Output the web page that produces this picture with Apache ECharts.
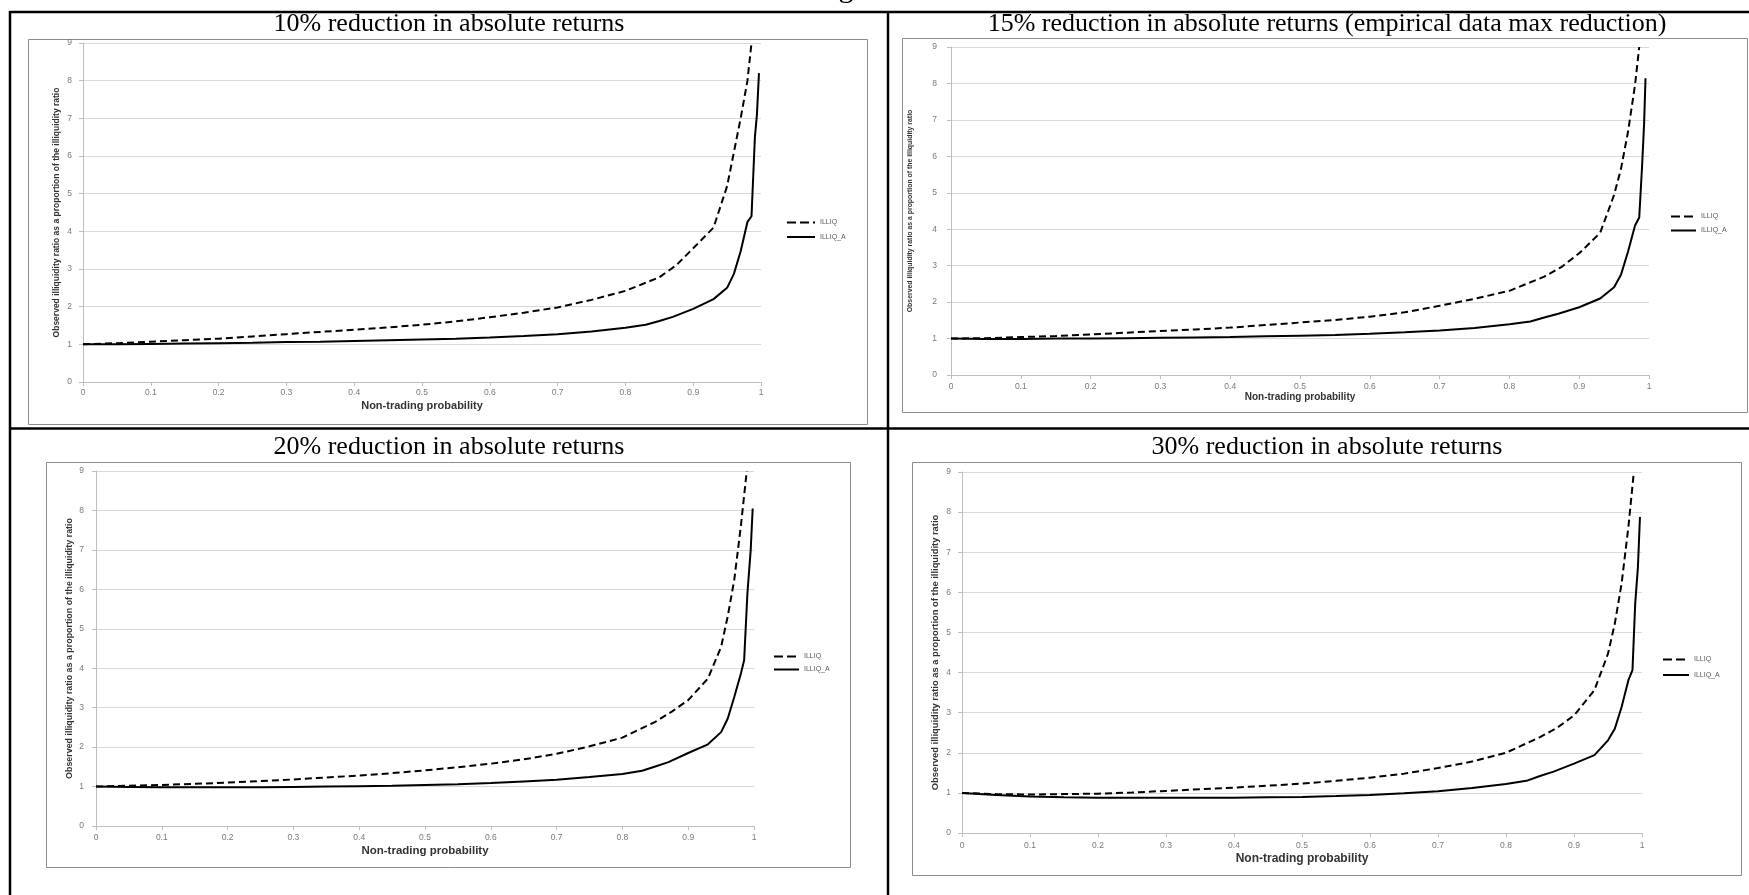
<!DOCTYPE html>
<html><head><meta charset="utf-8">
<script src="https://cdn.jsdelivr.net/npm/echarts@6/dist/echarts.min.js"></script>
<style>html,body{margin:0;padding:0;background:#fff}#c{width:1749px;height:895px}</style>
</head><body><div id="c"></div>
<script>
// ---------------- DATA ----------------
const panelTitles = [
  '10% reduction in absolute returns',
  '15% reduction in absolute returns (empirical data max reduction)',
  '20% reduction in absolute returns',
  '30% reduction in absolute returns'
];
const seriesNames = ['ILLIQ', 'ILLIQ_A'];
const yAxisTitle = 'Observed illiquidity ratio as a proportion of the illiquidity ratio';
const xAxisTitle = 'Non-trading probability';
const xTickLabels = ['0','0.1','0.2','0.3','0.4','0.5','0.6','0.7','0.8','0.9','1'];
const yTickLabels = ['0','1','2','3','4','5','6','7','8','9'];

// non-trading probability (x) for the dashed ILLIQ curves
const xDash10 = [0,0.05,0.1,0.15,0.2,0.25,0.3,0.35,0.4,0.45,0.5,0.55,0.6,0.65,0.7,0.75,0.8,0.85,0.875,0.9,0.93,0.95,0.96,0.97,0.98,0.986];
const xDash15 = [0,0.05,0.1,0.15,0.2,0.25,0.3,0.35,0.4,0.45,0.5,0.55,0.6,0.65,0.7,0.75,0.8,0.85,0.875,0.9,0.93,0.95,0.96,0.97,0.98,0.986];
const xDash20 = [0,0.05,0.1,0.15,0.2,0.25,0.3,0.35,0.4,0.45,0.5,0.55,0.6,0.65,0.7,0.75,0.8,0.85,0.875,0.9,0.93,0.95,0.96,0.97,0.98,0.989];
const xDash30 = [0,0.05,0.1,0.15,0.2,0.25,0.3,0.35,0.4,0.45,0.5,0.55,0.6,0.65,0.7,0.75,0.8,0.85,0.875,0.9,0.93,0.95,0.96,0.97,0.98,0.988];
// ILLIQ values
const illiq10 = [1.00,1.03,1.07,1.11,1.15,1.21,1.27,1.33,1.39,1.45,1.52,1.61,1.72,1.84,1.98,2.18,2.42,2.78,3.1,3.55,4.1,5.2,6.1,7.0,8.0,9.0];
const illiq15 = [1.00,1.01,1.04,1.07,1.11,1.16,1.21,1.25,1.30,1.37,1.44,1.51,1.60,1.72,1.90,2.09,2.31,2.70,2.97,3.34,3.90,4.94,5.67,6.68,7.96,9.0];
const illiq20 = [1.00,1.02,1.04,1.07,1.10,1.14,1.18,1.23,1.28,1.34,1.41,1.49,1.58,1.69,1.83,2.02,2.24,2.64,2.90,3.19,3.74,4.54,5.31,6.24,7.60,9.0];
const illiq30 = [1.00,0.97,0.96,0.97,0.98,1.01,1.05,1.09,1.13,1.18,1.23,1.30,1.38,1.48,1.62,1.78,2.00,2.39,2.62,2.93,3.56,4.47,5.22,6.22,7.63,9.0];

// non-trading probability (x) for the solid ILLIQ_A curves
const xSolid10 = [0,0.05,0.1,0.15,0.2,0.25,0.3,0.35,0.4,0.45,0.5,0.55,0.6,0.65,0.7,0.75,0.8,0.83,0.85,0.87,0.9,0.93,0.95,0.96,0.97,0.98,0.986,0.991,0.994,0.997];
const xSolid15 = [0,0.05,0.1,0.15,0.2,0.25,0.3,0.35,0.4,0.45,0.5,0.55,0.6,0.65,0.7,0.75,0.8,0.83,0.85,0.87,0.9,0.93,0.95,0.96,0.97,0.98,0.986,0.99,0.993,0.995];
const xSolid20 = [0,0.05,0.1,0.15,0.2,0.25,0.3,0.35,0.4,0.45,0.5,0.55,0.6,0.65,0.7,0.75,0.8,0.83,0.85,0.87,0.9,0.93,0.95,0.96,0.97,0.98,0.985,0.99,0.995,0.998];
const xSolid30 = [0,0.05,0.1,0.15,0.2,0.25,0.3,0.35,0.4,0.45,0.5,0.55,0.6,0.65,0.7,0.75,0.8,0.83,0.85,0.87,0.9,0.93,0.95,0.96,0.97,0.98,0.986,0.99,0.994,0.997];
// ILLIQ_A values
const illiqA10 = [1.00,1.00,1.01,1.02,1.03,1.04,1.06,1.07,1.09,1.11,1.13,1.15,1.18,1.22,1.27,1.34,1.44,1.52,1.62,1.73,1.94,2.20,2.50,2.87,3.47,4.25,4.40,6.50,7.10,8.20];
const illiqA15 = [1.00,0.99,0.99,1.00,1.00,1.01,1.02,1.03,1.04,1.06,1.08,1.10,1.13,1.17,1.22,1.29,1.39,1.47,1.58,1.68,1.86,2.10,2.41,2.76,3.39,4.10,4.32,5.70,6.90,8.14];
const illiqA20 = [1.00,0.99,0.98,0.98,0.98,0.98,0.99,1.00,1.01,1.02,1.04,1.06,1.09,1.13,1.17,1.24,1.32,1.40,1.51,1.62,1.85,2.07,2.38,2.72,3.27,3.86,4.20,5.90,7.00,8.05];
const illiqA30 = [1.00,0.95,0.91,0.89,0.88,0.88,0.88,0.88,0.88,0.89,0.90,0.92,0.95,0.99,1.04,1.12,1.22,1.30,1.42,1.53,1.73,1.94,2.31,2.60,3.14,3.81,4.06,5.72,6.63,7.88];

const dashX = [xDash10, xDash15, xDash20, xDash30];
const dashY = [illiq10, illiq15, illiq20, illiq30];
const solidX = [xSolid10, xSolid15, xSolid20, xSolid30];
const solidY = [illiqA10, illiqA15, illiqA20, illiqA30];

// ---------------- LAYOUT ----------------
const layout = [
  {grid:{left:83,top:43,width:678,height:339}, frame:[28,39,839,385], title:[449,24], yGap:22, yFont:8.5, yLblMargin:11, xGap:18, xFont:11, xLblMargin:6, lg:{left:786,top:219,w:28,pitch:15.5}},
  {grid:{left:951,top:47,width:698,height:328}, frame:[902,38,845,374], title:[1327,24], yGap:37, yFont:6.9, yLblMargin:14, xGap:16, xFont:10, xLblMargin:7, lg:{left:1670,top:213,w:25,pitch:15}},
  {grid:{left:96,top:471,width:658,height:355}, frame:[46,462,804,405], title:[449,447], yGap:22, yFont:8.9, yLblMargin:12, xGap:19, xFont:11.5, xLblMargin:7, lg:{left:773,top:653,w:25,pitch:14}},
  {grid:{left:962,top:472,width:680,height:361}, frame:[912,462,829,413], title:[1327,447], yGap:22, yFont:9.4, yLblMargin:11, xGap:20, xFont:12, xLblMargin:8, lg:{left:1662,top:656,w:26,pitch:16.5}}
];
const sansFont = 'Liberation Sans, Arial, sans-serif';
const serifFont = 'Liberation Serif, Times New Roman, serif';

const grids = [], xAxes = [], yAxes = [], series = [], legends = [];
const graphics = [];

layout.forEach((L, i) => {
  grids.push(Object.assign({containLabel:false}, L.grid));
  xAxes.push({
    gridIndex:i, type:'value', min:0, max:1, interval:0.1,
    name:xAxisTitle, nameLocation:'middle', nameGap:L.xGap,
    nameTextStyle:{fontSize:L.xFont, fontWeight:'bold', color:'#333', fontFamily:sansFont},
    axisLine:{show:true, onZero:false, lineStyle:{color:'#bfbfbf', width:1}},
    axisTick:{show:true, length:4, lineStyle:{color:'#bfbfbf'}},
    axisLabel:{fontSize:8.5, color:'#7a7a7a', margin:L.xLblMargin, fontFamily:sansFont,
      formatter:v => xTickLabels[Math.round(v*10)]},
    splitLine:{show:false}
  });
  yAxes.push({
    gridIndex:i, type:'value', min:0, max:9, interval:1,
    name:yAxisTitle, nameLocation:'middle', nameGap:L.yGap, nameRotate:90,
    nameTextStyle:{fontSize:L.yFont, fontWeight:'bold', color:'#333', fontFamily:sansFont},
    axisLine:{show:true, lineStyle:{color:'#bfbfbf', width:1}},
    axisTick:{show:true, length:4, lineStyle:{color:'#bfbfbf'}},
    axisLabel:{fontSize:8.5, color:'#7a7a7a', margin:L.yLblMargin, fontFamily:sansFont,
      formatter:v => yTickLabels[Math.round(v)]},
    splitLine:{show:true, lineStyle:{color:'#d9d9d9', width:1}}
  });
  series.push({
    type:'line', name:seriesNames[0], xAxisIndex:i, yAxisIndex:i,
    data: dashX[i].map((x, k) => [x, dashY[i][k]]),
    symbol:'none', clip:true, animation:false,
    lineStyle:{color:'#000', width:2, type:[7,4]}, itemStyle:{color:'#000'}
  });
  series.push({
    type:'line', name:seriesNames[1], xAxisIndex:i, yAxisIndex:i,
    data: solidX[i].map((x, k) => [x, solidY[i][k]]),
    symbol:'none', clip:true, animation:false,
    lineStyle:{color:'#000', width:2}, itemStyle:{color:'#000'}
  });
  legends.push({
    orient:'vertical', left:L.lg.left, top:L.lg.top, padding:0,
    itemWidth:L.lg.w, itemHeight:8, itemGap:L.lg.pitch - 8, selectedMode:false,
    textStyle:{fontSize:7, color:'#595959', fontFamily:sansFont},
    itemStyle:{opacity:0},
    data:[{name:seriesNames[0], lineStyle:{type:[9,4], width:2}}, {name:seriesNames[1]}]
  });
  const f = L.frame;
  graphics.push({type:'rect', silent:true, z:-1,
    shape:{x:f[0]+0.5, y:f[1]+0.5, width:f[2], height:f[3]},
    style:{fill:'none', stroke:'#8c8c8c', lineWidth:1}});
  graphics.push({type:'text', silent:true, x:L.title[0], y:L.title[1],
    style:{text:panelTitles[i], font:'26px ' + serifFont, fill:'#000',
      textAlign:'center', textVerticalAlign:'middle', align:'center', verticalAlign:'middle'}});
});

// table rules
[[10,12,1749,12],[10,428.5,1749,428.5],[10,11,10,895],[888,11,888,895]].forEach(s => {
  graphics.push({type:'line', silent:true, shape:{x1:s[0],y1:s[1],x2:s[2],y2:s[3]},
    style:{stroke:'#000', lineWidth:2.5}});
});
// cut-off heading above the table (only the descender of its last letter is visible)
graphics.push({type:'text', silent:true, x:846, y:-26,
  style:{text:'g', font:'30px ' + serifFont, fill:'#000', textAlign:'center', align:'center',
    textVerticalAlign:'top', verticalAlign:'top'}});

const chart = echarts.init(document.getElementById('c'), null, {renderer:'canvas'});
chart.setOption({
  backgroundColor:'#fff',
  animation:false,
  grid:grids, xAxis:xAxes, yAxis:yAxes, series:series, legend:legends,
  graphic:{elements:graphics}
});
</script></body></html>
